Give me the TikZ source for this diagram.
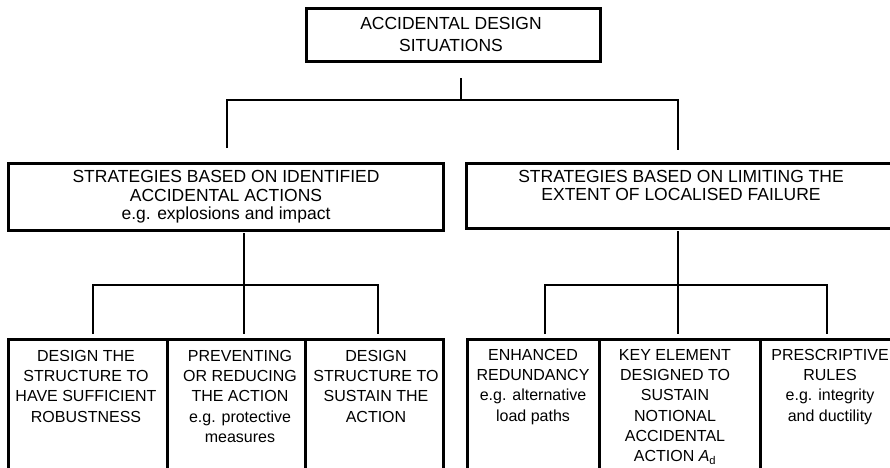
\documentclass[tikz,border=0pt]{standalone}
\usepackage{fontspec}
\setmainfont{Liberation Sans}
\begin{document}
\begin{tikzpicture}[x=1pt,y=-1pt,
  box/.style={draw=black, line width=3pt, inner sep=0pt, rectangle},
  topbox/.style={box, line width=3.5pt},
  link/.style={draw=black, line width=1.6pt},
  stem/.style={draw=black, line width=2.5pt},
  toptxt/.style={align=center, inner sep=0pt, anchor=north, font=\fontsize{17.5}{21.7}\selectfont},
  midtxt/.style={align=center, inner sep=0pt, anchor=north, font=\fontsize{17.5}{18.3}\selectfont},
  lowtxt/.style={align=center, inner sep=0pt, anchor=north, font=\fontsize{16}{20.3}\selectfont}
]
\useasboundingbox (0,0) rectangle (890,467);
\clip (0,0) rectangle (890,467);
\fill[white] (0,0) rectangle (890,467);

% boxes
\node[topbox, minimum width=294pt, minimum height=53pt] (top) at (453.5,35) {};
\node[box, minimum width=435pt, minimum height=67pt] (midL) at (226,197) {};
\node[box, minimum width=428.5pt, minimum height=65pt] (midR) at (680.75,196) {};
\node[box, minimum width=158.5pt, minimum height=150.5pt] (L1) at (87.75,414.75) {};
\node[box, minimum width=138pt, minimum height=150.5pt] (L2) at (236,414.75) {};
\node[box, minimum width=138.5pt, minimum height=150.5pt] (L3) at (374.25,414.75) {};
\node[box, minimum width=131.5pt, minimum height=150.5pt] (R1) at (533.25,414.75) {};
\node[box, minimum width=161pt, minimum height=150.5pt] (R2) at (679.5,414.75) {};
\node[box, minimum width=137pt, minimum height=150.5pt] (R3) at (828.5,414.75) {};

% texts
\node[toptxt] (topt) at (451,17) {ACCIDENTAL DESIGN\\SITUATIONS};
\node[midtxt] (midLt) at (226,170.5) {STRATEGIES BASED ON IDENTIFIED\\ACCIDENTAL ACTIONS\\e.g. explosions and impact};
\node[midtxt] (midRt) at (681,170) {STRATEGIES BASED ON LIMITING THE\\EXTENT OF LOCALISED FAILURE};
\node[lowtxt] (L1t) at (86,350) {DESIGN THE\\STRUCTURE TO\\HAVE SUFFICIENT\\ROBUSTNESS};
\node[lowtxt] (L2t) at (240,350) {PREVENTING\\OR REDUCING\\THE ACTION\\e.g. protective\\measures};
\node[lowtxt] (L3t) at (376,350) {DESIGN\\STRUCTURE TO\\SUSTAIN THE\\ACTION};
\node[lowtxt] (R1t) at (533,349) {ENHANCED\\REDUNDANCY\\e.g. alternative\\load paths};
\node[lowtxt] (R2t) at (675,349) {KEY ELEMENT\\DESIGNED TO\\SUSTAIN\\NOTIONAL\\ACCIDENTAL\\ACTION \textit{A}\textsubscript{d}};
\node[lowtxt] (R3t) at (830,349) {PRESCRIPTIVE\\RULES\\e.g. integrity\\and ductility};

% junction coordinates
\coordinate (t1) at (461,78);
\coordinate (t2) at (461,100);
\coordinate (hL) at (227,100);
\coordinate (hR) at (678,100);
\coordinate (dL) at (227,148);
\coordinate (dR) at (678,150);

\coordinate (a1) at (244,233);
\coordinate (a2) at (244,334);
\coordinate (a3) at (93,285);
\coordinate (a4) at (378,285);
\coordinate (a5) at (93,334);
\coordinate (a6) at (378,334);

\coordinate (b1) at (678,231);
\coordinate (b2) at (678,334);
\coordinate (b3) at (545,285);
\coordinate (b4) at (827,285);
\coordinate (b5) at (545,334);
\coordinate (b6) at (827,334);

% connectors
\draw[stem] (t1) -- (t2);
\draw[link] (dL) -- (hL) -- (hR) -- (dR);

\draw[link] (a1) -- (a2);
\draw[link] (a5) -- (a3) -- (a4) -- (a6);

\draw[link] (b1) -- (b2);
\draw[link] (b5) -- (b3) -- (b4) -- (b6);
\end{tikzpicture}
\end{document}
